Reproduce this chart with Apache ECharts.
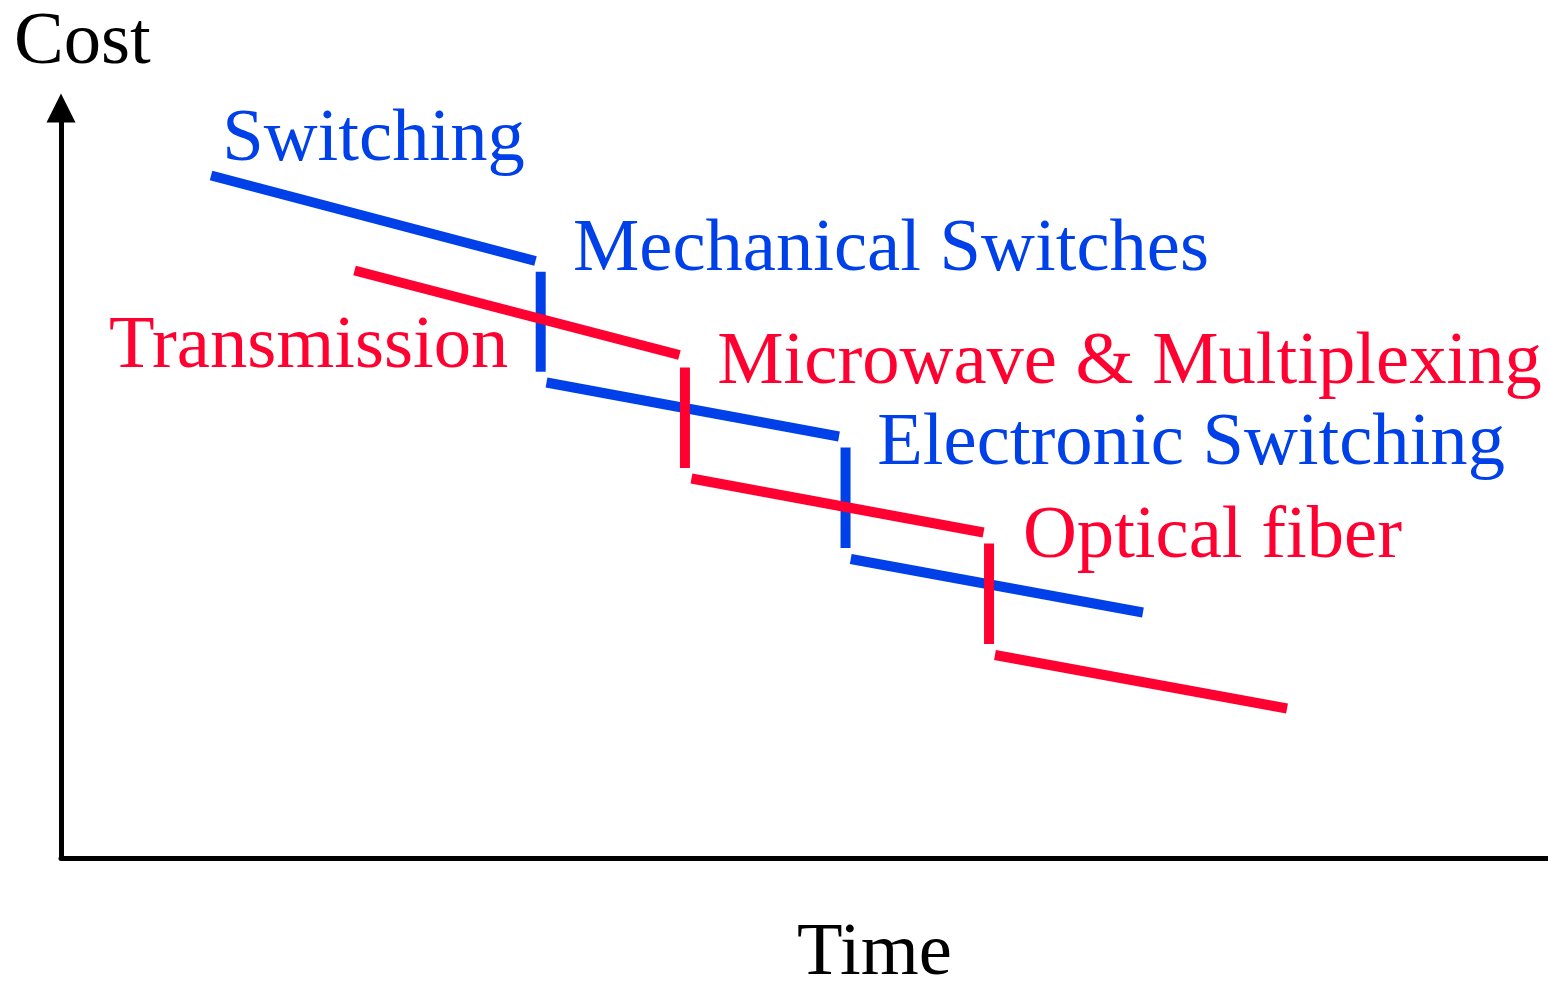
<!DOCTYPE html>
<html>
<head>
<meta charset="utf-8">
<script src="https://cdn.jsdelivr.net/npm/echarts@6/dist/echarts.min.js"></script>
<style>
  html, body { margin: 0; padding: 0; background: #ffffff; }
  #chart { width: 1548px; height: 981px; }
</style>
</head>
<body>
<div id="chart"></div>
<script>
// ---- Data (time on x, cost on y, arbitrary units 0..100) ----
const switchingSegments = [
  [[10.09, 91.00], [31.91, 79.60]],   // early switching
  [[32.26, 78.17], [32.26, 64.84]],   // step: mechanical switches
  [[32.65, 63.40], [52.32, 56.20]],
  [[52.76, 54.73], [52.76, 41.33]],   // step: electronic switching
  [[53.11, 39.87], [72.76, 32.73]]
];
const transmissionSegments = [
  [[19.74, 78.33], [41.59, 67.07]],   // early transmission
  [[41.96, 65.40], [41.96, 52.00]],   // step: microwave & multiplexing
  [[42.40, 50.60], [62.04, 43.40]],
  [[62.41, 41.93], [62.41, 28.53]],   // step: optical fiber
  [[62.81, 27.07], [82.45, 19.93]]
];
// annotation anchors: [x, baseline y]
const labelNames = ['Switching', 'Mechanical Switches', 'Transmission', 'Microwave & Multiplexing', 'Electronic Switching', 'Optical fiber'];
const labelAnchors = [[10.91, 93.07], [34.50, 78.40], [3.30, 65.50], [44.20, 63.37], [54.96, 52.60], [64.76, 40.13]];
const labelGroups = ['switching', 'switching', 'transmission', 'transmission', 'switching', 'transmission'];
const axisNames = { x: 'Time', y: 'Cost' };

// ---- Styles ----
const BLUE = '#0040E8';
const RED = '#FF0030';
const FONT = '"Liberation Serif", "Times New Roman", serif';
const FS = 74.6;
const BASE_SHIFT = -19.5;  // middle-of-em to alphabetic baseline
const groupColor = { switching: BLUE, transmission: RED };

const series = [];
switchingSegments.forEach(function (seg) {
  series.push({ type: 'line', data: seg, symbol: 'none', lineStyle: { color: BLUE, width: 10, cap: 'butt', opacity: 1 }, z: 3, silent: true });
});
transmissionSegments.forEach(function (seg) {
  series.push({ type: 'line', data: seg, symbol: 'none', lineStyle: { color: RED, width: 10, cap: 'butt', opacity: 1 }, z: 3, silent: true });
});
series.push({
  type: 'scatter',
  symbolSize: 0,
  itemStyle: { color: 'transparent', opacity: 1 },
  silent: true,
  z: 4,
  data: labelNames.map(function (n, i) {
    return {
      name: n,
      value: labelAnchors[i],
      label: { color: groupColor[labelGroups[i]] }
    };
  }),
  label: {
    show: true,
    formatter: '{b}',
    position: [0, 0],
    align: 'left',
    verticalAlign: 'middle',
    offset: [-1, BASE_SHIFT],
    opacity: 1,
    fontFamily: FONT,
    fontSize: FS,
    lineHeight: FS
  }
});

const chart = echarts.init(document.getElementById('chart'), null, { renderer: 'canvas' });
chart.setOption({
  animation: false,
  backgroundColor: '#ffffff',
  grid: { left: 61, right: 0, top: 108, bottom: 123, containLabel: false },
  xAxis: {
    type: 'value', min: 0, max: 100,
    axisLine: { show: true, lineStyle: { color: '#000', width: 5 } },
    axisTick: { show: false }, axisLabel: { show: false }, splitLine: { show: false }
  },
  yAxis: {
    type: 'value', min: 0, max: 100,
    axisLine: { show: true, symbol: ['none', 'triangle'], symbolSize: [29, 29], lineStyle: { color: '#000', width: 5 } },
    axisTick: { show: false }, axisLabel: { show: false }, splitLine: { show: false }
  },
  graphic: [
    { type: 'text', left: 14, top: 63 + BASE_SHIFT - FS / 2, style: { text: axisNames.y, font: FS + 'px ' + FONT, fill: '#000' } },
    { type: 'text', left: 797, top: 974 + BASE_SHIFT - FS / 2, style: { text: axisNames.x, font: FS + 'px ' + FONT, fill: '#000' } }
  ],
  series: series
});
</script>
</body>
</html>
